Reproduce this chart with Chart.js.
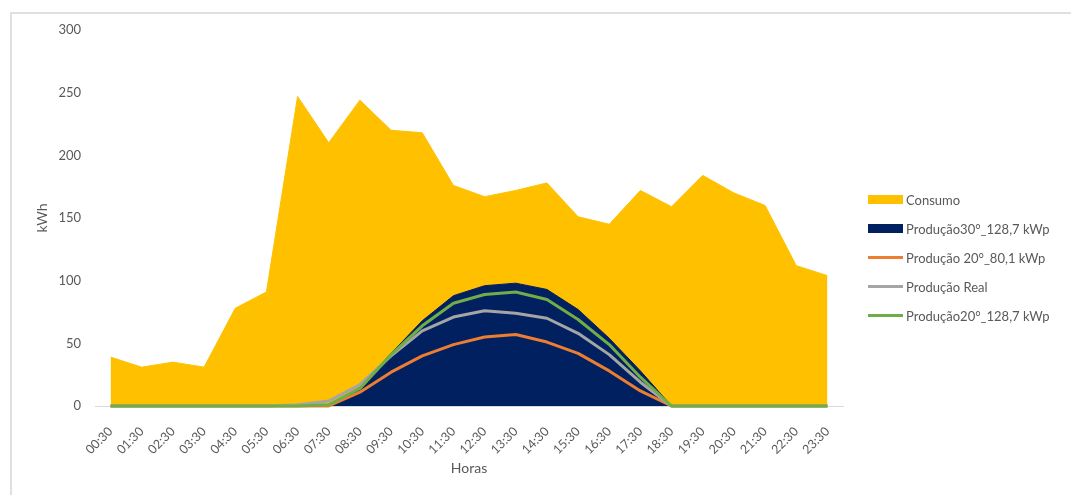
<!DOCTYPE html>
<html>
<head>
<meta charset="utf-8">
<script src="https://cdn.jsdelivr.net/npm/chart.js@4.4.1/dist/chart.umd.min.js"></script>
<style>
  body { margin: 0; background: #fff; overflow: hidden; }
  #wrap { position: relative; width: 1071px; height: 495px; }
  #frame {
    position: absolute; left: 10px; top: 12px; width: 1200px; height: 600px;
    border-top: 2px solid #e0e0e0; border-left: 2px solid #e0e0e0;
  }
  #legend {
    position: absolute; left: 868px; top: 185px; margin: 0; padding: 0;
    list-style: none; font-family: Lato, 'Open Sans', sans-serif; font-size: 13px; color: #595959;
  }
  #legend li { display: flex; align-items: center; height: 29px; }
  #legend .sw { width: 35px; margin-right: 3px; }
</style>
</head>
<body>
<div id="wrap">
  <div id="frame"></div>
  <canvas id="chart" width="1071" height="495"></canvas>
  <ul id="legend"></ul>
</div>
<script>
// data
const horas = ['00:30','01:30','02:30','03:30','04:30','05:30','06:30','07:30','08:30','09:30','10:30','11:30',
               '12:30','13:30','14:30','15:30','16:30','17:30','18:30','19:30','20:30','21:30','22:30','23:30'];
const consumo     = [39, 31, 35, 31, 78, 91, 247, 210, 244, 220, 218, 176, 167, 172, 178, 151, 145, 172, 159, 184, 170, 160, 112, 104];
const prod30_1287 = [0, 0, 0, 0, 0, 0, 0, 0, 15, 42, 68, 88, 96, 98, 93, 77, 54, 28, 0, 0, 0, 0, 0, 0];
const prod20_801  = [0, 0, 0, 0, 0, 0, 0, 0, 11, 27, 40, 49, 55, 57, 51, 42, 28, 12, 0, 0, 0, 0, 0, 0];
const prodReal    = [0, 0, 0, 0, 0, 0, 1, 4, 17, 40, 60, 71, 76, 74, 70, 58, 41, 19, 0, 0, 0, 0, 0, 0];
const prod20_1287 = [0, 0, 0, 0, 0, 0, 0, 1, 14, 41, 64, 82, 89, 91, 85, 69, 49, 23, 0, 0, 0, 0, 0, 0];
const yTicks = [0, 50, 100, 150, 200, 250, 300];

Chart.defaults.font.family = "Lato, 'Open Sans', sans-serif";
Chart.defaults.color = '#595959';

const line = (label, data, color, order) => ({
  label, data, borderColor: color, backgroundColor: color, borderWidth: 3,
  pointRadius: 0, fill: false, order, borderJoinStyle: 'round', tension: 0, clip: false
});

const chart = new Chart(document.getElementById('chart'), {
  type: 'line',
  data: {
    labels: horas,
    datasets: [
      { label: 'Consumo', data: consumo, borderColor: '#FFC000', backgroundColor: '#FFC000',
        borderWidth: 1, pointRadius: 0, fill: 'origin', order: 5, legendType: 'box' },
      { label: 'Produção30°_128,7 kWp', data: prod30_1287, borderColor: '#002060', backgroundColor: '#002060',
        borderWidth: 1, pointRadius: 0, fill: 'origin', order: 4, legendType: 'box' },
      line('Produção 20°_80,1 kWp', prod20_801, '#ED7D31', 3),
      line('Produção Real', prodReal, '#A5A5A5', 2),
      line('Produção20°_128,7 kWp', prod20_1287, '#70AD47', 1)
    ]
  },
  options: {
    responsive: false,
    animation: false,
    layout: { padding: { top: 30, right: 228, bottom: 14, left: 30 } },
    plugins: { legend: { display: false }, tooltip: { enabled: false } },
    scales: {
      x: {
        offset: true,
        grid: { display: false },
        border: { color: '#d9d9d9', width: 1 },
        ticks: { autoSkip: false, maxRotation: 45, minRotation: 45, font: { size: 12.5 }, padding: 10 },
        title: { display: true, text: 'Horas', font: { size: 14 } },
        afterFit: s => { s.height = 75; }
      },
      y: {
        min: 0, max: 300,
        grid: { display: false, drawTicks: false },
        border: { display: false },
        afterBuildTicks: s => { s.ticks = yTicks.map(v => ({ value: v })); },
        ticks: { font: { size: 13 }, padding: 14 },
        title: { display: true, text: 'kWh', font: { size: 14 } },
        afterFit: s => { s.width = 65; }
      }
    }
  }
});

// legend in Excel style: boxes for areas, short lines for lines
const ul = document.getElementById('legend');
chart.data.datasets.forEach(ds => {
  const li = document.createElement('li');
  const sw = document.createElement('span');
  sw.className = 'sw';
  sw.style.background = ds.backgroundColor;
  sw.style.height = ds.legendType === 'box' ? '9px' : '3px';
  li.appendChild(sw);
  li.appendChild(document.createTextNode(ds.label));
  ul.appendChild(li);
});
</script>
</body>
</html>
